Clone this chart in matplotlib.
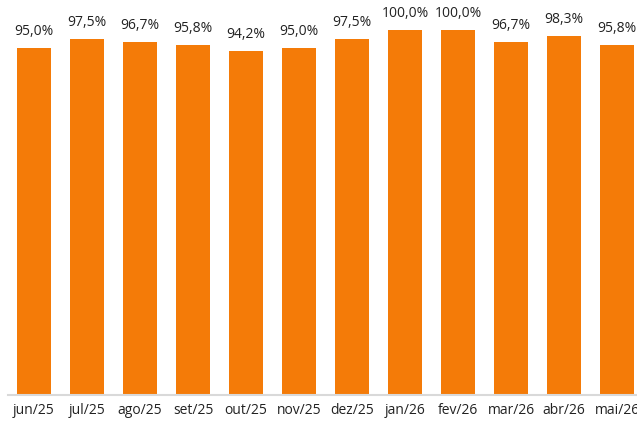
import matplotlib
matplotlib.use("Agg")
import matplotlib.pyplot as plt

# Data
months = ["jun/25", "jul/25", "ago/25", "set/25", "out/25", "nov/25",
          "dez/25", "jan/26", "fev/26", "mar/26", "abr/26", "mai/26"]
values = [95.0, 97.5, 96.7, 95.8, 94.2, 95.0, 97.5, 100.0, 100.0, 96.7, 98.3, 95.8]

plt.rcParams['font.family'] = ['Open Sans', 'DejaVu Sans']

fig = plt.figure(figsize=(6.37, 4.22), dpi=100)
W, H = 637, 422
ax = fig.add_axes([7.5 / W, 1 - 395 / H, (637 - 7.5) / W, 395 / H])

x = list(range(len(months)))
bars = ax.bar(x, values, width=0.66, color="#F47B08", zorder=2)

for xi, v in zip(x, values):
    ax.text(xi, v + 2.5, f"{v:.1f}%".replace(".", ","), ha="center", va="bottom",
            fontsize=10, color="#222222")

ax.set_xlim(-0.5, (637 - 34) / 53)
ax.set_ylim(0, 100 * 395 / 365)
ax.set_xticks(x)
ax.set_xticklabels(months, fontsize=10, color="#222222")
ax.tick_params(axis="x", length=0, pad=6)
ax.set_yticks([])
for s in ["top", "right", "left"]:
    ax.spines[s].set_visible(False)
ax.spines["bottom"].set_color("#D9D9D9")
ax.spines["bottom"].set_linewidth(1.5)

fig.savefig("out.png", dpi=100)
